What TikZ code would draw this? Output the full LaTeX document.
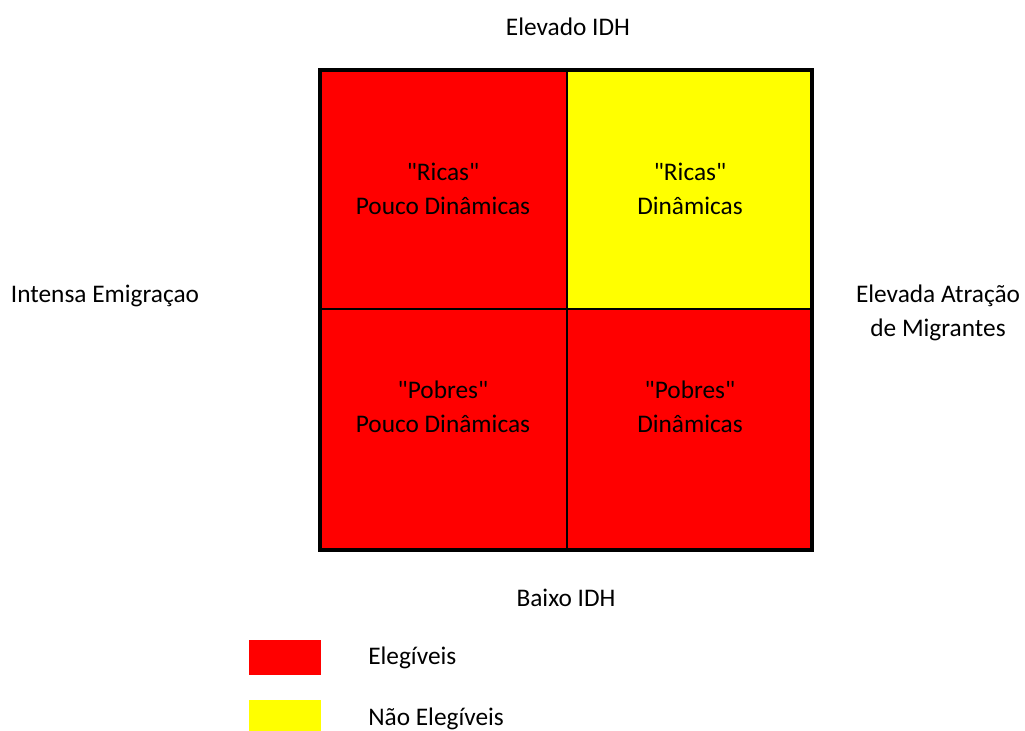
\documentclass[tikz,border=0pt]{standalone}
\usepackage{fontspec}
\setmainfont{Carlito}
\usepackage{tikz}
\usetikzlibrary{positioning}
\definecolor{eleg}{RGB}{255,0,0}
\definecolor{naoeleg}{RGB}{255,255,0}
\newcommand{\aspas}[1]{\textquotedbl#1\textquotedbl}
\begin{document}
\begin{tikzpicture}[x=0.75pt,y=-0.75pt,
lbl/.style={align=center,font=\fontsize{19}{25.5}\selectfont,inner sep=0pt},
cell/.style={lbl,text=black},
key/.style={inner sep=0pt,minimum width=54pt,minimum height=26.25pt}]
\useasboundingbox (0,0) rectangle (1025,731);
% quadrants
\fill[eleg] (320,70) rectangle (567,309);
\fill[naoeleg] (567,70) rectangle (812,309);
\fill[eleg] (320,309) rectangle (812,550);
\draw[line width=1.5pt] (567,70)--(567,550) (320,309)--(812,309);
\draw[line width=2.6pt] (320,70) rectangle (812,550);
\node[cell] (rp) at (443,189) {\aspas{Ricas}\\Pouco Dinâmicas};
\node[cell] (rd) at (690,189) {\aspas{Ricas}\\Dinâmicas};
\node[cell] (pp) at (443,407) {\aspas{Pobres}\\Pouco Dinâmicas};
\node[cell] (pd) at (690,407) {\aspas{Pobres}\\Dinâmicas};
% axes
\node[lbl] (alto) at (568,27) {Elevado IDH};
\node[lbl] (baixo) at (566,598) {Baixo IDH};
\node[lbl] (emig) at (105,296) {Intensa Emigraçao};
\node[lbl] (atr) at (938,313) {Elevada Atração\\de Migrantes};
% legend
\node[key,fill=eleg] (k1) at (285,657.5) {};
\node[key,fill=naoeleg,anchor=north] (k2) at (285,700) {};
\node[lbl,anchor=west] (t1) at (368,658) {Elegíveis};
\node[lbl,anchor=west] (t2) at (368,719) {Não Elegíveis};
\end{tikzpicture}
\end{document}
